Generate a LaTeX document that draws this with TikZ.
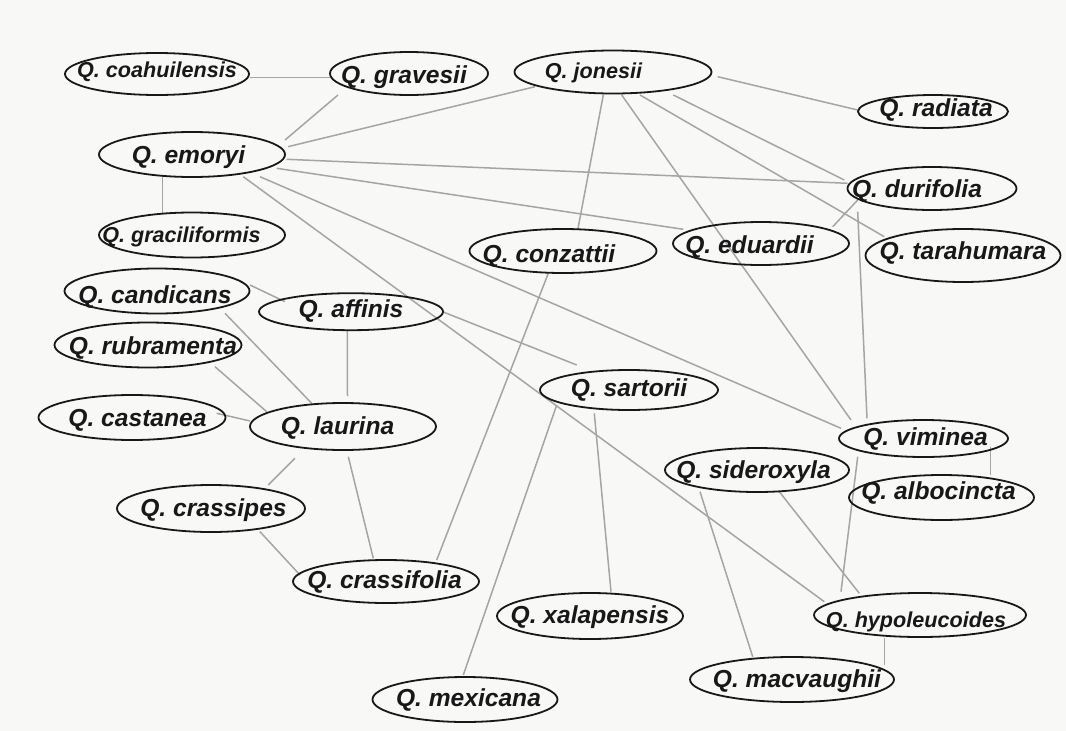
\documentclass[tikz,border=0pt]{standalone}
\usepackage{fontspec}
\setmainfont{Liberation Sans}
\usetikzlibrary{shapes.geometric,calc}

\definecolor{paper}{RGB}{248,248,247}
\definecolor{ink}{RGB}{24,24,24}
\definecolor{wiregray}{RGB}{165,165,165}

\pgfdeclarelayer{back}
\pgfsetlayers{back,main}

\tikzset{
  oakshape/.style={ellipse, draw=ink, line width=1.8pt, inner sep=0pt},
  oakbase/.style={anchor=base, inner sep=0pt, text=ink},
  oakname/.style={oakbase, font=\fontsize{24.6}{28}\selectfont\bfseries\itshape, yshift=-8.8pt},
  oaksmall/.style={oakbase, font=\fontsize{21.6}{25}\selectfont\bfseries\itshape, yshift=-7.7pt},
  wire/.style={draw=wiregray, line width=1.5pt},
}

% species ellipse: name, x, y, width, height, label dx, label dy, label style, label
\newcommand\oaknode[9]{%
  \node[oakshape, minimum width=#4pt, minimum height=#5pt] (#1) at (#2,#3) {};
  \node[#8] (#1-name) at ($(#1.center)+(#6,#7)$) {#9};}

% connector between two species, end points given relative to their centres
\newcommand\oaklink[4]{%
  \draw[wire] ($(#1.center)+(#2)$) -- ($(#3.center)+(#4)$);}

\begin{document}
\begin{tikzpicture}[x=1pt,y=-1pt]
\useasboundingbox (0,0) rectangle (1066,731);
\begin{pgfonlayer}{back}
  \fill[paper] (0,0) rectangle (1066,731);
\end{pgfonlayer}

\oaknode{coahuilensis}{157}{74}{184}{42}{0}{-4}{oaksmall}{Q. coahuilensis}
\oaknode{gravesii}{409}{73.5}{158}{43}{-5}{1}{oakname}{Q. gravesii}
\oaknode{jonesii}{613}{72}{197}{43}{-19.5}{-1}{oaksmall}{Q. jonesii}
\oaknode{radiata}{933}{111.5}{150}{33}{3}{-4}{oakname}{Q. radiata}
\oaknode{emoryi}{192}{154.5}{186}{45}{-3.5}{0}{oakname}{Q. emoryi}
\oaknode{durifolia}{932}{188.5}{169}{43}{-15}{0}{oakname}{Q. durifolia}
\oaknode{graciliformis}{192}{235}{186}{45}{-10.5}{0}{oaksmall}{Q. graciliformis}
\oaknode{conzattii}{563}{251}{187}{44}{-14}{2.5}{oakname}{Q. conzattii}
\oaknode{eduardii}{761}{243.5}{176}{43}{-11.5}{1}{oakname}{Q. eduardii}
\oaknode{tarahumara}{963}{255.5}{195}{53}{0}{-5}{oakname}{Q. tarahumara}
\oaknode{candicans}{157}{291}{185}{45}{-2}{3.5}{oakname}{Q. candicans}
\oaknode{affinis}{351}{311.7}{184}{37}{0}{-2.7}{oakname}{Q. affinis}
\oaknode{rubramenta}{148}{345}{187}{45}{5}{0.5}{oakname}{Q. rubramenta}
\oaknode{castanea}{132}{417.5}{187}{45}{5.5}{0}{oakname}{Q. castanea}
\oaknode{laurina}{343}{426.5}{186}{47}{-5.5}{-1}{oakname}{Q. laurina}
\oaknode{sartorii}{629}{390}{178}{40}{0}{-2}{oakname}{Q. sartorii}
\oaknode{viminea}{923.5}{438.5}{169}{37}{2}{-2}{oakname}{Q. viminea}
\oaknode{sideroxyla}{757}{470}{184}{44}{-3.5}{-0.5}{oakname}{Q. sideroxyla}
\oaknode{albocincta}{941.5}{497.5}{185}{45}{-3}{-7}{oakname}{Q. albocincta}
\oaknode{crassipes}{211}{508.5}{188}{47}{2.5}{-1}{oakname}{Q. crassipes}
\oaknode{crassifolia}{386}{581.5}{186}{43}{-1.5}{-2}{oakname}{Q. crassifolia}
\oaknode{xalapensis}{590}{616}{186}{46}{0}{-1}{oakname}{Q. xalapensis}
\oaknode{hypoleucoides}{920}{615}{212}{44}{-4}{5}{oaksmall}{Q. hypoleucoides}
\oaknode{macvaughii}{792}{679.5}{204}{45}{5}{-1}{oakname}{Q. macvaughii}
\oaknode{mexicana}{465}{699.5}{185}{45}{3.5}{-2}{oakname}{Q. mexicana}

\begin{pgfonlayer}{back}
  \oaklink{coahuilensis}{93,3.7}{gravesii}{-79,4.2}
  \oaklink{emoryi}{93,-14.5}{gravesii}{-71,21.5}
  \oaklink{emoryi}{96,-7.8}{jonesii}{-78,14.7}
  \oaklink{emoryi}{-29.7,22.2}{graciliformis}{-29.7,-22}
  \oaklink{emoryi}{94.7,4.8}{durifolia}{-84.3,-5.2}
  \oaklink{emoryi}{84.7,13.8}{eduardii}{-77.7,-14.2}
  \oaklink{emoryi}{68,22.2}{viminea}{-82.5,-10.2}
  \oaklink{emoryi}{51.3,22.2}{hypoleucoides}{-95.7,-13.3}
  \oaklink{jonesii}{104.7,4.7}{radiata}{-75.3,-1.5}
  \oaklink{jonesii}{-9.7,23}{conzattii}{14.7,-21}
  \oaklink{jonesii}{8.7,23}{viminea}{-72.5,-18.5}
  \oaklink{jonesii}{27,23}{tarahumara}{-78.7,-18.8}
  \oaklink{jonesii}{60.3,23}{durifolia}{-87.7,-8.5}
  \oaklink{durifolia}{-74.3,11.5}{eduardii}{71.7,-16.8}
  \oaklink{durifolia}{-74.3,23.2}{viminea}{-56.5,-20.2}
  \oaklink{conzattii}{-14.7,22.3}{crassifolia}{50.7,-21.5}
  \oaklink{candicans}{93,-6}{affinis}{-66,-10}
  \oaklink{candicans}{68,22.3}{laurina}{-31.3,-23.2}
  \oaklink{rubramenta}{67,21.7}{laurina}{-76.3,-14.8}
  \oaklink{castanea}{84.7,-4.2}{laurina}{-93,-5.5}
  \oaklink{affinis}{-3.7,18.3}{laurina}{4.5,-30.5}
  \oaklink{affinis}{92.3,0.3}{sartorii}{-52.3,-25}
  \oaklink{laurina}{-48,31.8}{crassipes}{57.3,-23.5}
  \oaklink{laurina}{5.3,30.2}{crassifolia}{-12.7,-23.2}
  \oaklink{crassipes}{49,23.2}{crassifolia}{-86,-6.5}
  \oaklink{sartorii}{-72.3,15}{mexicana}{-1.7,-24.5}
  \oaklink{sartorii}{-34.7,23.3}{xalapensis}{21,-24.3}
  \oaklink{viminea}{66.8,8.2}{albocincta}{48.8,-22.5}
  \oaklink{viminea}{-65.8,18.2}{hypoleucoides}{-79,-23.3}
  \oaklink{sideroxyla}{22.3,21.7}{hypoleucoides}{-60.7,-21.7}
  \oaklink{sideroxyla}{-57,21.7}{macvaughii}{-39.3,-22.8}
  \oaklink{hypoleucoides}{-35.7,23.3}{macvaughii}{92.3,-14.5}
\end{pgfonlayer}
\end{tikzpicture}
\end{document}
